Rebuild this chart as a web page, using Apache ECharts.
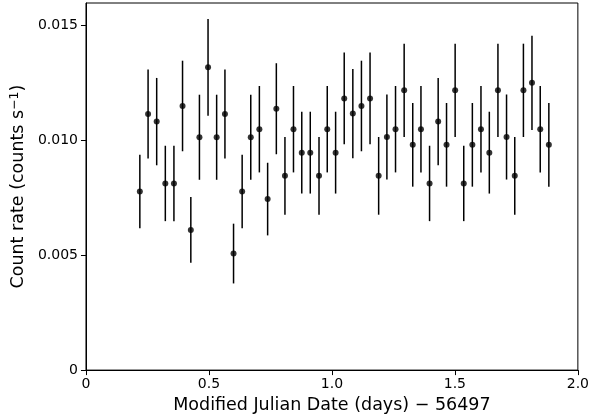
<!DOCTYPE html>
<html>
<head>
<meta charset="utf-8">
<script src="https://cdn.jsdelivr.net/npm/echarts@6/dist/echarts.min.js"></script>
<style>html,body{margin:0;padding:0;background:#fff}#c{width:592px;height:419px}</style>
</head>
<body>
<div id="c"></div>
<script>
const mjd = [0.219,0.2525,0.2875,0.3226,0.3576,0.3926,0.4263,0.4613,0.4963,0.5313,0.565,0.600,0.635,0.670,0.705,0.7386,0.774,0.809,0.8437,0.8774,0.912,0.9475,0.981,1.015,1.050,1.085,1.120,1.155,1.190,1.2235,1.2586,1.2937,1.3286,1.362,1.397,1.432,1.466,1.501,1.536,1.571,1.606,1.640,1.675,1.710,1.7434,1.7786,1.8134,1.847,1.882];
const rate = [0.00777,0.01114,0.01081,0.00812,0.00812,0.01149,0.00610,0.01013,0.01317,0.01013,0.01114,0.00507,0.00777,0.01013,0.01048,0.00744,0.01137,0.00845,0.01048,0.00946,0.00946,0.00845,0.01048,0.00946,0.01182,0.01116,0.01149,0.01182,0.00845,0.01014,0.01048,0.01217,0.00980,0.01048,0.00812,0.01081,0.00980,0.01217,0.00812,0.00980,0.01048,0.00946,0.01217,0.01014,0.00845,0.01217,0.01250,0.01048,0.00980];
const rateErr = [0.0016,0.00194,0.0019,0.00164,0.00164,0.00197,0.00143,0.00185,0.0021,0.00185,0.00194,0.0013,0.0016,0.00185,0.00188,0.00158,0.00198,0.00169,0.00188,0.00178,0.00178,0.00169,0.00188,0.00178,0.002,0.00194,0.00197,0.002,0.00169,0.00185,0.00188,0.00203,0.00182,0.00188,0.00164,0.0019,0.00182,0.00203,0.00164,0.00182,0.00188,0.00178,0.00203,0.00185,0.00169,0.00203,0.00205,0.00188,0.00182];
const xTicks = [0, 0.5, 1.0, 1.5, 2.0];
const yTicks = [0, 0.005, 0.010, 0.015];

const font = 'DejaVu Sans';
const points = mjd.map((x, i) => [x, rate[i]]);
const bars = mjd.map((x, i) => [x, rate[i] - rateErr[i], rate[i] + rateErr[i]]);

const chart = echarts.init(document.getElementById('c'));
chart.setOption({
  animation: false,
  grid: { left: 84, right: 13, top: 3, bottom: 48, show: true, borderColor: '#000', borderWidth: 1 },
  xAxis: {
    type: 'value', min: 0, max: 2.0, interval: 0.5,
    name: 'Modified Julian Date (days) \u2212 56497',
    nameLocation: 'middle', nameGap: 25,
    nameTextStyle: { fontFamily: font, fontSize: 17.5, color: '#000' },
    axisLine: { show: true, onZero: false, lineStyle: { color: '#000', width: 1 } },
    axisTick: { show: true, inside: false, length: 5, lineStyle: { color: '#000' } },
    axisLabel: { fontFamily: font, fontSize: 14, color: '#000', margin: 7,
      formatter: v => (xTicks.indexOf(v) < 0 ? '' : (v === 0 ? '0' : v.toFixed(1))) },
    splitLine: { show: false }
  },
  yAxis: {
    type: 'value', min: 0, max: 0.01597, interval: 0.005,
    name: '{main|Count rate (counts s}{sup|\u22121}{main|)}',
    nameLocation: 'middle', nameGap: 55,
    nameTextStyle: { fontFamily: font, fontSize: 17.5, color: '#000',
      rich: {
        main: { fontFamily: font, fontSize: 17.5, color: '#000', lineHeight: 20, verticalAlign: 'middle' },
        sup: { fontFamily: font, fontSize: 12.5, color: '#000', verticalAlign: 'top', lineHeight: 6 }
      } },
    axisLine: { show: true, onZero: false, lineStyle: { color: '#000', width: 1 } },
    axisTick: { show: true, inside: false, length: 5, lineStyle: { color: '#000' } },
    axisLabel: { fontFamily: font, fontSize: 14, color: '#000', margin: 8, showMaxLabel: false,
      formatter: v => (yTicks.some(t => Math.abs(t - v) < 1e-9) ? (v === 0 ? '0' : v.toFixed(3)) : '') },
    splitLine: { show: false }
  },
  series: [
    {
      type: 'custom',
      data: bars,
      encode: { x: 0, y: [1, 2] },
      renderItem: (params, api) => {
        const lo = api.coord([api.value(0), api.value(1)]);
        const hi = api.coord([api.value(0), api.value(2)]);
        return { type: 'line', shape: { x1: lo[0], y1: lo[1], x2: hi[0], y2: hi[1] },
          style: { stroke: '#000', lineWidth: 1.5 } };
      },
      z: 2
    },
    {
      type: 'scatter',
      data: points,
      symbol: 'circle', symbolSize: 6,
      itemStyle: { color: '#000' },
      z: 3
    }
  ]
});
</script>
</body>
</html>
